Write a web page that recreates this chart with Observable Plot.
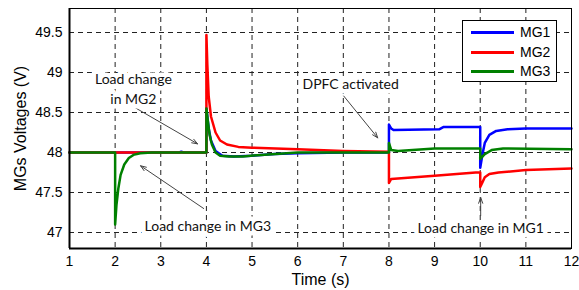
<!DOCTYPE html>
<html><head><meta charset="utf-8">
<script src="https://cdn.jsdelivr.net/npm/d3@7"></script>
<script src="https://cdn.jsdelivr.net/npm/@observablehq/plot@0.6"></script>
<style>
body{margin:0;background:#fff;}
#wrap{position:relative;width:579px;height:290px;}
#legend{position:absolute;left:462px;top:20px;width:93px;height:60px;border:1px solid #000;background:#fff;font-family:"Liberation Sans",Arial,sans-serif;font-size:14px;color:#000;}
.row{position:absolute;left:0;height:19px;width:93px;}
.sw{position:absolute;left:8px;top:8px;width:43px;height:3px;}
.lb{position:absolute;left:57px;top:0;line-height:19px;}
</style></head>
<body><div id="wrap"></div>
<script>
const seriesNames = ["MG1", "MG2", "MG3"];
const seriesColors = ["#0000ff", "#ff0000", "#008000"];

const mg1Time = [1, 3.4, 3.45, 3.5, 4.0, 4.0, 4.05, 4.1, 4.2, 4.35, 4.6, 5.0, 5.5, 6, 7, 8, 8, 8.05, 8.1, 9.1, 9.2, 10, 10, 10.05, 10.1, 10.2, 10.35, 10.6, 11, 12];
const mg1Volt = [48, 48, 48.01, 48, 48, 48.55, 48.3, 48.15, 48.02, 47.96, 47.95, 47.96, 47.98, 47.99, 48.0, 48.0, 48.35, 48.3, 48.28, 48.29, 48.32, 48.32, 47.81, 47.98, 48.12, 48.22, 48.27, 48.29, 48.3, 48.3];

const mg2Time = [1, 4, 4, 4.02, 4.05, 4.1, 4.2, 4.3, 4.45, 4.7, 5, 6, 7, 8, 8, 8.05, 9, 9.9, 10, 10, 10.05, 10.1, 10.2, 10.4, 11, 12];
const mg2Volt = [48, 48, 49.47, 49.1, 48.7, 48.45, 48.25, 48.15, 48.1, 48.07, 48.06, 48.04, 48.02, 48.01, 47.62, 47.67, 47.71, 47.75, 47.75, 47.57, 47.63, 47.69, 47.73, 47.75, 47.78, 47.80];

const mg3Time = [1, 2, 2, 2.03, 2.07, 2.12, 2.2, 2.3, 2.4, 2.55, 2.8, 4, 4, 4.03, 4.07, 4.12, 4.2, 4.3, 4.5, 4.8, 5.2, 5.6, 6, 8, 8, 8.05, 8.2, 9, 10, 10, 10.1, 10.25, 10.5, 12];
const mg3Volt = [48, 48, 47.1, 47.35, 47.55, 47.72, 47.85, 47.93, 47.97, 47.99, 48.0, 48.0, 48.55, 48.4, 48.22, 48.1, 48.0, 47.96, 47.95, 47.95, 47.97, 47.985, 48.0, 48.0, 48.12, 48.03, 48.02, 48.05, 48.05, 47.92, 47.98, 48.03, 48.05, 48.04];

const xTicks = [1, 2, 3, 4, 5, 6, 7, 8, 9, 10, 11, 12];
const yTicks = [47, 47.5, 48, 48.5, 49, 49.5];
const yTickLabels = ["47", "47.5", "48", "48.5", "49", "49.5"];

const annoText = ["Load change\nin MG2", "DPFC activated", "Load change in MG3", "Load change in MG1"];
const annoX = [2.40, 7.16, 4.03, 10.01];
const annoY = [48.806, 48.868, 47.10, 47.075];
const arrowX1 = [2.447, 7.009, 3.94, 10.01];
const arrowY1 = [48.557, 48.706, 47.30, 47.21];
const arrowX2 = [3.807, 7.754, 2.557, 10.01];
const arrowY2 = [48.108, 48.183, 47.834, 47.436];

const times = [mg1Time, mg2Time, mg3Time];
const volts = [mg1Volt, mg2Volt, mg3Volt];
const data = [];
seriesNames.forEach((name, s) => times[s].forEach((t, i) => data.push({series: name, t, v: volts[s][i]})));
const annos = annoText.map((text, i) => ({text, x: annoX[i], y: annoY[i]}));
const arrows = arrowX1.map((x1, i) => ({x1, y1: arrowY1[i], x2: arrowX2[i], y2: arrowY2[i]}));

const grid = {stroke: "#222", strokeOpacity: 1, strokeDasharray: "5,4", strokeWidth: 1};

const chart = Plot.plot({
  width: 579, height: 290,
  marginLeft: 69, marginRight: 8, marginTop: 8, marginBottom: 42,
  x: {domain: [1, 12]},
  y: {domain: [46.8, 49.8]},
  color: {domain: seriesNames, range: seriesColors},
  style: {fontFamily: "'Liberation Sans', Arial, sans-serif", fontSize: "14px", background: "#fff", color: "#000"},
  marks: [
    Plot.gridX(xTicks, grid),
    Plot.gridY(yTicks, grid),
    Plot.line(data, {x: "t", y: "v", z: "series", stroke: "series", strokeWidth: 2.5}),
    Plot.arrow(arrows, {x1: "x1", y1: "y1", x2: "x2", y2: "y2", stroke: "#444", strokeWidth: 1, headLength: 9, headAngle: 40}),
    Plot.text(annos, {x: "x", y: "y", text: "text", fill: "#111", stroke: "white", strokeWidth: 9, paintOrder: "stroke", fontFamily: "Lato, 'Open Sans', sans-serif", fontSize: 14, lineHeight: 1.43}),
    Plot.frame({stroke: "#000", strokeWidth: 1}),
    Plot.ruleX([1], {stroke: "#000", strokeWidth: 2}),
    Plot.ruleY([46.8], {stroke: "#000", strokeWidth: 2}),
    Plot.axisX(xTicks, {tickSize: 0, tickPadding: 8, fontSize: 14, label: null}),
    Plot.axisY(yTicks, {tickSize: 0, tickPadding: 7, fontSize: 14, label: null, tickFormat: d => yTickLabels[yTicks.indexOf(d)]}),
    Plot.text(["Time (s)"], {frameAnchor: "bottom", dy: 31, fontSize: 16, lineAnchor: "middle", textAnchor: "middle"}),
    Plot.text(["MGs Voltages (V)"], {frameAnchor: "left", dx: -49, rotate: -90, fontSize: 16, lineAnchor: "middle", textAnchor: "middle"})
  ]
});
const wrap = document.getElementById("wrap");
wrap.appendChild(chart);

const legend = document.createElement("div");
legend.id = "legend";
seriesNames.forEach((name, i) => {
  const row = document.createElement("div");
  row.className = "row";
  row.style.top = (2 + i * 19.5) + "px";
  const sw = document.createElement("div");
  sw.className = "sw";
  sw.style.background = seriesColors[i];
  const lb = document.createElement("div");
  lb.className = "lb";
  lb.textContent = name;
  row.appendChild(sw); row.appendChild(lb);
  legend.appendChild(row);
});
wrap.appendChild(legend);
</script>
</body></html>
